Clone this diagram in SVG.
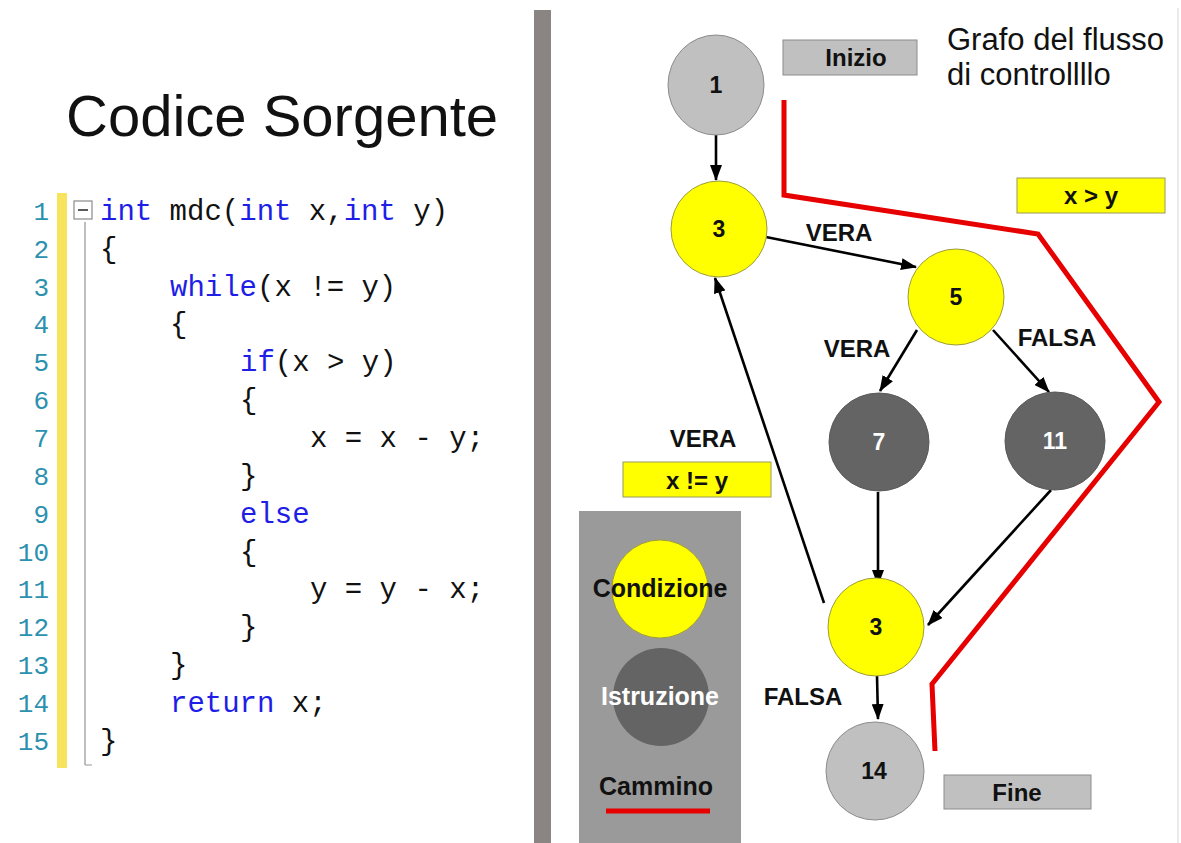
<svg xmlns="http://www.w3.org/2000/svg" width="1181" height="843" viewBox="0 0 1181 843">
  <style>
    .title { font-family: "Liberation Sans", Arial, sans-serif; font-size: 58px; fill: #111; }
    .ln { font-family: "Liberation Mono", "Courier New", monospace; font-size: 26px; fill: #2b91af; text-anchor: end; }
    .code { font-family: "Liberation Mono", "Courier New", monospace; font-size: 29px; fill: #111; white-space: pre; }
    .kw { fill: #1e1ee6; }
    .lbl { font-family: "Liberation Sans", Arial, sans-serif; font-size: 24px; font-weight: bold; fill: #111; text-anchor: middle; }
    .nodetxt { font-family: "Liberation Sans", Arial, sans-serif; font-size: 23px; font-weight: bold; fill: #111; text-anchor: middle; }
    .nodetxt.w { fill: #fff; }
    .cond { fill: #ffff00; stroke: #9c9c3c; stroke-width: 1; }
    .instr { fill: #646464; stroke: #5a5a5a; stroke-width: 1; }
    .term { fill: #c0c0c0; stroke: #8c8c8c; stroke-width: 1; }
    .edge { stroke: #000; stroke-width: 2.6; fill: none; marker-end: url(#arrow); }
    .path { stroke: #e60000; stroke-width: 5; fill: none; stroke-linejoin: miter; }
    .box-y { fill: #ffff00; stroke: #9a9a5a; stroke-width: 1; }
    .box-g { fill: #c0c0c0; stroke: #8c8c8c; stroke-width: 1; }
    .head { font-family: "Liberation Sans", Arial, sans-serif; font-size: 31px; fill: #111; }
    .leg { font-family: "Liberation Sans", Arial, sans-serif; font-size: 25px; font-weight: bold; fill: #111; text-anchor: middle; }
  </style>
  <defs>
    <marker id="arrow" viewBox="0 0 16 12" refX="15" refY="6" markerWidth="16" markerHeight="12" markerUnits="userSpaceOnUse" orient="auto">
      <path d="M0,0 L16,6 L0,12 z" fill="#000"/>
    </marker>
  </defs>

  <rect width="1181" height="843" fill="#fff"/>

  <!-- Left panel: source code -->
  <g id="source">
    <text class="title" x="66" y="136">Codice Sorgente</text>
    <rect x="57" y="193" width="10" height="575" fill="#f8e45c"/>
    <rect x="74" y="201" width="18" height="18" fill="#fff" stroke="#8a8a8a" stroke-width="1.2"/>
    <line x1="78" y1="210" x2="88" y2="210" stroke="#333" stroke-width="1.6"/>
    <line x1="85" y1="222" x2="85" y2="765" stroke="#a8a8a8" stroke-width="1.5"/>
    <line x1="85" y1="765" x2="92" y2="765" stroke="#a8a8a8" stroke-width="1.2"/>

    <g class="linenos">
      <text class="ln" x="49" y="220">1</text>
      <text class="ln" x="49" y="258">2</text>
      <text class="ln" x="49" y="296">3</text>
      <text class="ln" x="49" y="333">4</text>
      <text class="ln" x="49" y="371">5</text>
      <text class="ln" x="49" y="409">6</text>
      <text class="ln" x="49" y="447">7</text>
      <text class="ln" x="49" y="485">8</text>
      <text class="ln" x="49" y="523">9</text>
      <text class="ln" x="49" y="561">10</text>
      <text class="ln" x="49" y="598">11</text>
      <text class="ln" x="49" y="636">12</text>
      <text class="ln" x="49" y="674">13</text>
      <text class="ln" x="49" y="712">14</text>
      <text class="ln" x="49" y="750">15</text>
    </g>

    <g class="lines">
      <text class="code" x="100" y="220"><tspan class="kw">int</tspan> mdc(<tspan class="kw">int</tspan> x,<tspan class="kw">int</tspan> y)</text>
      <text class="code" x="100" y="258">{</text>
      <text class="code" x="170" y="296"><tspan class="kw">while</tspan>(x != y)</text>
      <text class="code" x="170" y="333">{</text>
      <text class="code" x="240" y="371"><tspan class="kw">if</tspan>(x &gt; y)</text>
      <text class="code" x="240" y="409">{</text>
      <text class="code" x="310" y="447">x = x - y;</text>
      <text class="code" x="240" y="485">}</text>
      <text class="code" x="240" y="523"><tspan class="kw">else</tspan></text>
      <text class="code" x="240" y="561">{</text>
      <text class="code" x="310" y="598">y = y - x;</text>
      <text class="code" x="240" y="636">}</text>
      <text class="code" x="170" y="674">}</text>
      <text class="code" x="170" y="712"><tspan class="kw">return</tspan> x;</text>
      <text class="code" x="100" y="750">}</text>
    </g>
  </g>

  <!-- Divider -->
  <rect x="534" y="10" width="17" height="833" fill="#8a8583"/>
  <line x1="1178" y1="8" x2="1178" y2="843" stroke="#d8d8d8" stroke-width="1"/>

  <!-- Heading and annotation boxes -->
  <g id="heading">
    <text class="head" x="947" y="50">Grafo del flusso</text>
    <text class="head" x="947" y="85">di controllllo</text>
  </g>
  <g id="label-inizio">
    <rect class="box-g" x="783" y="40" width="134" height="35"/>
    <text class="lbl" x="856" y="66">Inizio</text>
  </g>
  <g id="label-fine">
    <rect class="box-g" x="944" y="775" width="147" height="34"/>
    <text class="lbl" x="1017" y="801">Fine</text>
  </g>
  <g id="label-xgty">
    <rect class="box-y" x="1017" y="178" width="148" height="35"/>
    <text class="lbl" x="1091" y="204">x &gt; y</text>
  </g>
  <g id="label-xney">
    <rect class="box-y" x="623" y="462" width="148" height="35"/>
    <text class="lbl" x="697" y="489">x != y</text>
  </g>

  <!-- Execution path -->
  <g id="cammino">
    <polyline class="path" points="784,100 784,195 1038,234 1159,402 932,684 935,751"/>
  </g>

  <!-- Connectors -->
  <g id="connectors">
    <line class="edge" x1="716" y1="135" x2="716" y2="180"/>
    <line class="edge" x1="766" y1="237" x2="916" y2="267"/>
    <line class="edge" x1="917" y1="330" x2="880" y2="391"/>
    <line class="edge" x1="993" y1="330" x2="1049" y2="392"/>
    <line class="edge" x1="878" y1="492" x2="878" y2="585"/>
    <line class="edge" x1="1051" y1="490" x2="928" y2="625"/>
    <line class="edge" x1="824" y1="603" x2="715" y2="278"/>
    <line class="edge" x1="877" y1="676" x2="878" y2="719"/>
    <text class="lbl" x="839" y="241">VERA</text>
    <text class="lbl" x="857" y="357">VERA</text>
    <text class="lbl" x="1057" y="346">FALSA</text>
    <text class="lbl" x="703" y="447">VERA</text>
    <text class="lbl" x="803" y="705">FALSA</text>
  </g>

  <!-- Nodes -->
  <g id="node-1">
    <ellipse class="term" cx="716" cy="85" rx="48" ry="50"/>
    <text class="nodetxt" x="716" y="93">1</text>
  </g>
  <g id="node-3a">
    <ellipse class="cond" cx="719" cy="229" rx="48" ry="48"/>
    <text class="nodetxt" x="719" y="237">3</text>
  </g>
  <g id="node-5">
    <ellipse class="cond" cx="956" cy="297" rx="48" ry="48"/>
    <text class="nodetxt" x="956" y="305">5</text>
  </g>
  <g id="node-7">
    <ellipse class="instr" cx="879" cy="442" rx="50" ry="49"/>
    <text class="nodetxt w" x="879" y="450">7</text>
  </g>
  <g id="node-11">
    <ellipse class="instr" cx="1055" cy="441" rx="50" ry="49"/>
    <text class="nodetxt w" x="1055" y="449">11</text>
  </g>
  <g id="node-3b">
    <ellipse class="cond" cx="876" cy="627" rx="48" ry="49"/>
    <text class="nodetxt" x="876" y="635">3</text>
  </g>
  <g id="node-14">
    <ellipse class="term" cx="875" cy="771" rx="49" ry="49"/>
    <text class="nodetxt" x="874" y="779">14</text>
  </g>

  <!-- Legend -->
  <g id="legend">
    <rect x="579" y="511" width="162" height="332" fill="#9a9a9a"/>
    <ellipse cx="660" cy="589" rx="48" ry="49" fill="#ffff00" stroke="#9c9c3c" stroke-width="1"/>
    <text class="leg" x="660" y="597">Condizione</text>
    <ellipse cx="661" cy="697" rx="48" ry="49" fill="#646464"/>
    <text class="leg" x="660" y="705" style="fill:#fff">Istruzione</text>
    <text class="leg" x="656" y="795">Cammino</text>
    <line x1="606" y1="811" x2="710" y2="811" stroke="#e60000" stroke-width="5"/>
  </g>
</svg>
